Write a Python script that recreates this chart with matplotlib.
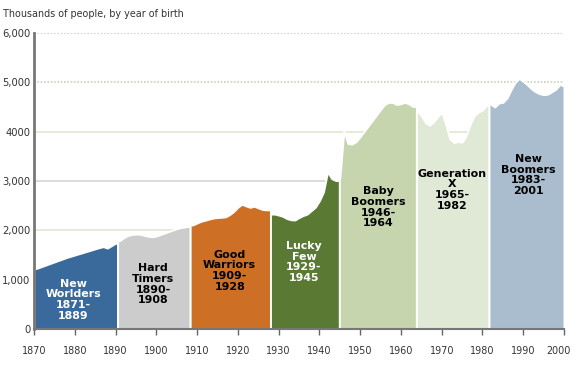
import matplotlib.pyplot as plt
import matplotlib.transforms as mtransforms
import numpy as np

# generations: names, birth-year labels, colours, values by birth year (thousands)
names = ["New\nWorlders", "Hard\nTimers", "Good\nWarriors", "Lucky\nFew",
         "Baby\nBoomers", "Generation\nX", "New\nBoomers"]
spans = ["1871-\n1889", "1890-\n1908", "1909-\n1928", "1929-\n1945",
         "1946-\n1964", "1965-\n1982", "1983-\n2001"]
first_year = [1870, 1891, 1909, 1929, 1945, 1964, 1982]

new_worlders = [1215, 1240, 1270, 1300, 1330, 1360, 1390, 1420, 1450, 1475, 1500,
                1525, 1550, 1575, 1600, 1625, 1650, 1670, 1640, 1690, 1740]
hard_timers = [1790, 1850, 1895, 1915, 1925, 1920, 1900, 1880, 1870, 1885, 1915,
               1945, 1975, 2005, 2035, 2055, 2070, 2085]
good_warriors = [2110, 2150, 2185, 2205, 2230, 2250, 2260, 2265, 2275, 2320, 2385,
                 2470, 2530, 2495, 2466, 2490, 2455, 2425, 2415]
lucky_few = [2330, 2310, 2285, 2240, 2215, 2210, 2260, 2300, 2330, 2400, 2470,
             2600, 2780, 3190, 3050, 3010]
baby_boomers = [3050, 4020, 3760, 3750, 3800, 3900, 4010, 4120, 4230, 4340, 4450,
                4550, 4595, 4590, 4550, 4570, 4595, 4560, 4510]
generation_x = [4420, 4330, 4180, 4130, 4200, 4300, 4400, 4150, 3850, 3780, 3800,
                3790, 3920, 4150, 4330, 4400, 4440, 4530]
new_boomers = [4560, 4500, 4580, 4595, 4680, 4850, 5000, 5080, 5020, 4950, 4870,
               4810, 4770, 4750, 4760, 4810, 4860, 4960, 4920]

series = [new_worlders, hard_timers, good_warriors, lucky_few,
          baby_boomers, generation_x, new_boomers]

colors = ["#3a6a9c", "#cccccc", "#cd7026", "#5a7a34", "#c6d5ae", "#e0e8d6", "#aabdcf"]
text_colors = ["white", "black", "black", "white", "black", "black", "black"]
# label centre positions (year, value)
label_pos = [(1879.6, 590), (1899.2, 910), (1918.0, 1180), (1936.2, 1360),
             (1954.4, 2470), (1972.5, 2820), (1991.2, 3120)]
# drawn band edges
edges = [1870, 1890.5, 1908.3, 1928.0, 1944.9, 1963.8, 1981.6, 2000]

yticks = [0, 1000, 2000, 3000, 4000, 5000, 6000]
ytick_labels = ["0", "1,000", "2,000", "3,000", "4000", "5,000", "6,000"]
xticks = list(range(1870, 2001, 10))

fig = plt.figure(figsize=(5.72, 3.68), dpi=100)
ax = fig.add_axes([34 / 572, 39 / 368, 530 / 572, 296 / 368])

# gridlines
grid_styles = {1000: ("#d4d4d4", "-"), 2000: ("#dfe7d2", "-"), 3000: ("#d4d4d4", "-"),
               4000: ("#dfe7d2", "-"), 5000: ("#c9d1bd", (0, (1, 1))),
               6000: ("#c9d1bd", (0, (1, 1)))}
for yv, (c, ls) in grid_styles.items():
    ax.axhline(yv, color=c, lw=1.2, ls=ls, zorder=0)

for i, vals in enumerate(series):
    yrs = np.arange(first_year[i], first_year[i] + len(vals))
    x = np.concatenate([[edges[i]], yrs[(yrs > edges[i]) & (yrs < edges[i + 1])], [edges[i + 1]]])
    y = np.interp(x, yrs, vals)
    ax.fill_between(x, 0, y, facecolor=colors[i], edgecolor="white", lw=1.4, zorder=2)
    lx, ly = label_pos[i]
    ax.text(lx, ly, names[i] + "\n" + spans[i], ha="center", va="center",
            color=text_colors[i], fontsize=7.9, fontweight="bold",
            linespacing=1.1, zorder=3)

ax.set_xlim(1870, 2000)
ax.set_ylim(0, 6000)
ax.set_xticks(xticks)
ax.set_xticklabels([str(t) for t in xticks], fontsize=6.9, color="#333333")
ax.set_yticks(yticks)
ax.set_yticklabels(ytick_labels, fontsize=7.2, color="#333333")
ax.tick_params(axis="y", length=0, pad=2.5)
ax.tick_params(axis="x", length=4, width=1, color="#666666", pad=8)

# nudge the last year label left so it stays inside the picture
last = ax.get_xticklabels()[-1]
last.set_transform(last.get_transform() +
                   mtransforms.ScaledTranslation(-0.055, 0, fig.dpi_scale_trans))

for s in ["top", "right"]:
    ax.spines[s].set_visible(False)
ax.spines["left"].set_color("#777777")
ax.spines["left"].set_linewidth(2)
ax.spines["bottom"].set_color("#777777")
ax.spines["bottom"].set_linewidth(1.5)
ax.spines["left"].set_zorder(4)
ax.spines["bottom"].set_zorder(4)

fig.text(3 / 572, 1 - 14 / 368, "Thousands of people, by year of birth",
         fontsize=6.9, color="#333333", va="center", ha="left")

fig.savefig("out.png", dpi=100)
